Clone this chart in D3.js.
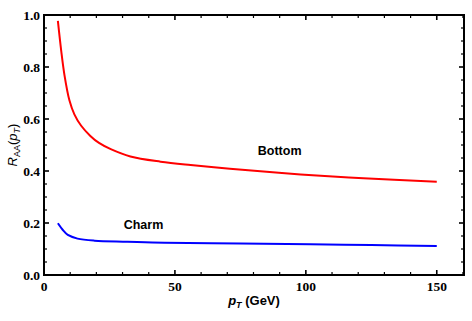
<!DOCTYPE html>
<html><head><meta charset="utf-8">
<script src="https://cdn.jsdelivr.net/npm/d3@7"></script>
<style>body{margin:0;background:#fff}svg{display:block}</style>
</head><body>
<svg id="c" width="472" height="321"></svg>
<script>
const bottomPt = [5.3, 6.6, 7.8, 9.7, 11.6, 14.2, 17.7, 21, 25.5, 33, 44.5, 56, 71, 85, 98, 122, 150];
const bottomR  = [0.977, 0.86, 0.77, 0.672, 0.618, 0.574, 0.535, 0.508, 0.484, 0.456, 0.436, 0.423, 0.409, 0.397, 0.387, 0.372, 0.359];
const charmPt  = [5.3, 7.2, 9.1, 12.8, 19.3, 31.9, 46, 75, 101.7, 125, 150];
const charmR   = [0.199, 0.173, 0.154, 0.14, 0.132, 0.128, 0.124, 0.121, 0.118, 0.115, 0.1115];
const xMajor = [0, 50, 100, 150];
const yMajor = [0.0, 0.2, 0.4, 0.6, 0.8, 1.0];
const labels = [{text: "Bottom", x: 90, y: 0.462}, {text: "Charm", x: 38, y: 0.177}];

const svg = d3.select("#c");
const L = 44, R = 464, T = 15, B = 275;
const x = d3.scaleLinear().domain([0, 160.4]).range([L, R]);
const y = d3.scaleLinear().domain([0, 1]).range([B, T]);

const g = svg.append("g");
const xMinor = d3.range(0, 161, 10).filter(v => v % 50 !== 0);
const yMinor = d3.range(0, 1.001, 0.05).filter(v => Math.abs(v*10 - Math.round(v*10)) > 0.01 || Math.round(v*10) % 2 === 1);

function ticks(vals, len, major) {
  vals.forEach(v => {
    const px = x(v);
    g.append("line").attr("x1", px).attr("x2", px).attr("y1", B).attr("y2", B - len).attr("stroke", "#000").attr("stroke-width", major ? 1.6 : 1.2);
    g.append("line").attr("x1", px).attr("x2", px).attr("y1", T).attr("y2", T + len).attr("stroke", "#000").attr("stroke-width", major ? 1.6 : 1.2);
  });
}
function yticks(vals, len, major) {
  vals.forEach(v => {
    const py = y(v);
    g.append("line").attr("x1", L).attr("x2", L + len).attr("y1", py).attr("y2", py).attr("stroke", "#000").attr("stroke-width", major ? 1.6 : 1.2);
    g.append("line").attr("x1", R).attr("x2", R - len).attr("y1", py).attr("y2", py).attr("stroke", "#000").attr("stroke-width", major ? 1.6 : 1.2);
  });
}
ticks(xMajor, 5, true); ticks(xMinor, 3, false);
yticks(yMajor, 5, true); yticks(yMinor, 3, false);

g.append("rect").attr("x", L).attr("y", T).attr("width", R - L).attr("height", B - T)
  .attr("fill", "none").attr("stroke", "#000").attr("stroke-width", 2);

const tf = "'Liberation Serif', 'Times New Roman', serif";
xMajor.forEach(v => {
  g.append("text").attr("x", x(v)).attr("y", B + 16).attr("text-anchor", "middle")
    .attr("font-family", tf).attr("font-weight", "bold").attr("font-size", 13.5).text(v);
});
yMajor.forEach(v => {
  g.append("text").attr("x", L - 4).attr("y", y(v) + 4.5).attr("text-anchor", "end")
    .attr("font-family", tf).attr("font-weight", "bold").attr("font-size", 13.5).text(v.toFixed(1));
});

const line = d3.line().x(d => x(d[0])).y(d => y(d[1])).curve(d3.curveCatmullRom.alpha(0.5));
g.append("path").datum(bottomPt.map((p, i) => [p, bottomR[i]])).attr("d", line)
  .attr("fill", "none").attr("stroke", "#ff0000").attr("stroke-width", 2);
g.append("path").datum(charmPt.map((p, i) => [p, charmR[i]])).attr("d", line)
  .attr("fill", "none").attr("stroke", "#0000ff").attr("stroke-width", 2);

const sf = "'Liberation Sans', Arial, sans-serif";
labels.forEach(l => {
  g.append("text").attr("x", x(l.x)).attr("y", y(l.y)).attr("text-anchor", "middle")
    .attr("font-family", sf).attr("font-weight", "bold").attr("font-size", 12.5).text(l.text);
});

// x axis title
const xt = g.append("text").attr("x", 254).attr("y", 305).attr("text-anchor", "middle")
  .attr("font-family", sf).attr("font-weight", "bold").attr("font-size", 13);
xt.append("tspan").attr("font-style", "italic").text("p");
xt.append("tspan").attr("font-size", 9).attr("dy", 3).attr("font-style", "italic").text("T");
xt.append("tspan").attr("dy", -3).text(" (GeV)");

// y axis title
const yt = g.append("text").attr("transform", "translate(17,145) rotate(-90)").attr("text-anchor", "middle")
  .attr("font-family", sf).attr("font-size", 13);
yt.append("tspan").attr("font-style", "italic").text("R");
yt.append("tspan").attr("font-size", 9).attr("dy", 3).text("AA");
yt.append("tspan").attr("dy", -3).text("(");
yt.append("tspan").attr("font-style", "italic").text("p");
yt.append("tspan").attr("font-size", 9).attr("dy", 3).attr("font-style", "italic").text("T");
yt.append("tspan").attr("dy", -3).text(")");
</script>
</body></html>
